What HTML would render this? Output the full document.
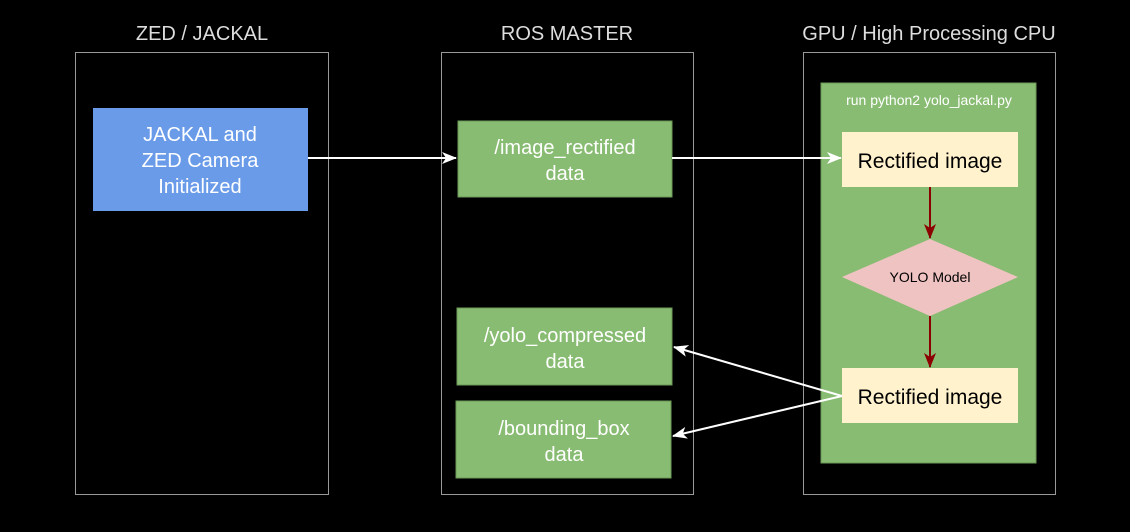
<!DOCTYPE html>
<html><head><style>
body{margin:0;background:#000;width:1130px;height:527px;overflow:hidden;font-family:"Liberation Sans",sans-serif}
</style></head><body>
<svg width="1130" height="527" xmlns="http://www.w3.org/2000/svg" font-family="Liberation Sans, sans-serif">
<defs>
<marker id="w" markerWidth="15" markerHeight="12" refX="14" refY="6" orient="auto" markerUnits="userSpaceOnUse" viewBox="0 0 15 12"><path d="M0,0 L15,6 L0,12 L4,6 z" fill="#fff"/></marker>
<marker id="r" markerWidth="15" markerHeight="12" refX="14" refY="6" orient="auto" markerUnits="userSpaceOnUse" viewBox="0 0 15 12"><path d="M0,0 L15,6 L0,12 L4,6 z" fill="#8b0000"/></marker>
</defs>
<g fill="none" stroke="#999" stroke-width="1">
<rect x="75.5" y="52.5" width="253" height="442"/>
<rect x="441.5" y="52.5" width="252" height="442"/>
<rect x="803.5" y="52.5" width="252" height="442"/>
</g>
<g fill="#ddd" font-size="20" text-anchor="middle">
<text x="202" y="40">ZED / JACKAL</text>
<text x="567" y="40">ROS MASTER</text>
<text x="929" y="40">GPU / High Processing CPU</text>
</g>
<rect x="821" y="83" width="215" height="380" fill="#88bc72" stroke="#6a9a58"/>
<text x="929" y="105" fill="#fff" font-size="14" text-anchor="middle">run python2 yolo_jackal.py</text>
<rect x="842" y="132" width="176" height="55" fill="#fff2cc"/>
<text x="930" y="168" font-size="21" text-anchor="middle" fill="#000">Rectified image</text>
<polygon points="930,239 1018,277 930,316 842,277" fill="#f0c3c3"/>
<text x="930" y="282" font-size="14" text-anchor="middle" fill="#000">YOLO Model</text>
<rect x="842" y="368" width="176" height="55" fill="#fff2cc"/>
<text x="930" y="404" font-size="21" text-anchor="middle" fill="#000">Rectified image</text>
<rect x="93" y="108" width="215" height="103" fill="#6a9be8"/>
<g fill="#fff" font-size="20" text-anchor="middle">
<text x="200" y="141">JACKAL and</text><text x="200" y="167">ZED Camera</text><text x="200" y="193">Initialized</text>
</g>
<g fill="#88bc72" stroke="#6a9a58">
<rect x="458" y="121" width="214" height="76"/>
<rect x="457" y="308" width="215" height="77"/>
<rect x="456" y="401" width="215" height="77"/>
</g>
<g fill="#fff" font-size="20" text-anchor="middle">
<text x="565" y="154">/image_rectified</text><text x="565" y="180">data</text>
<text x="565" y="342">/yolo_compressed</text><text x="565" y="368">data</text>
<text x="564" y="435">/bounding_box</text><text x="564" y="461">data</text>
</g>
<g stroke="#fff" stroke-width="2" fill="none">
<line x1="308" y1="158" x2="456" y2="158" marker-end="url(#w)"/>
<line x1="672" y1="158" x2="841" y2="158" marker-end="url(#w)"/>
<line x1="842" y1="396" x2="674" y2="347" marker-end="url(#w)"/>
<line x1="842" y1="396" x2="673" y2="436" marker-end="url(#w)"/>
</g>
<g stroke="#8b0000" stroke-width="2">
<line x1="930" y1="187" x2="930" y2="238" marker-end="url(#r)"/>
<line x1="930" y1="316" x2="930" y2="367" marker-end="url(#r)"/>
</g>
</svg>
</body></html>
